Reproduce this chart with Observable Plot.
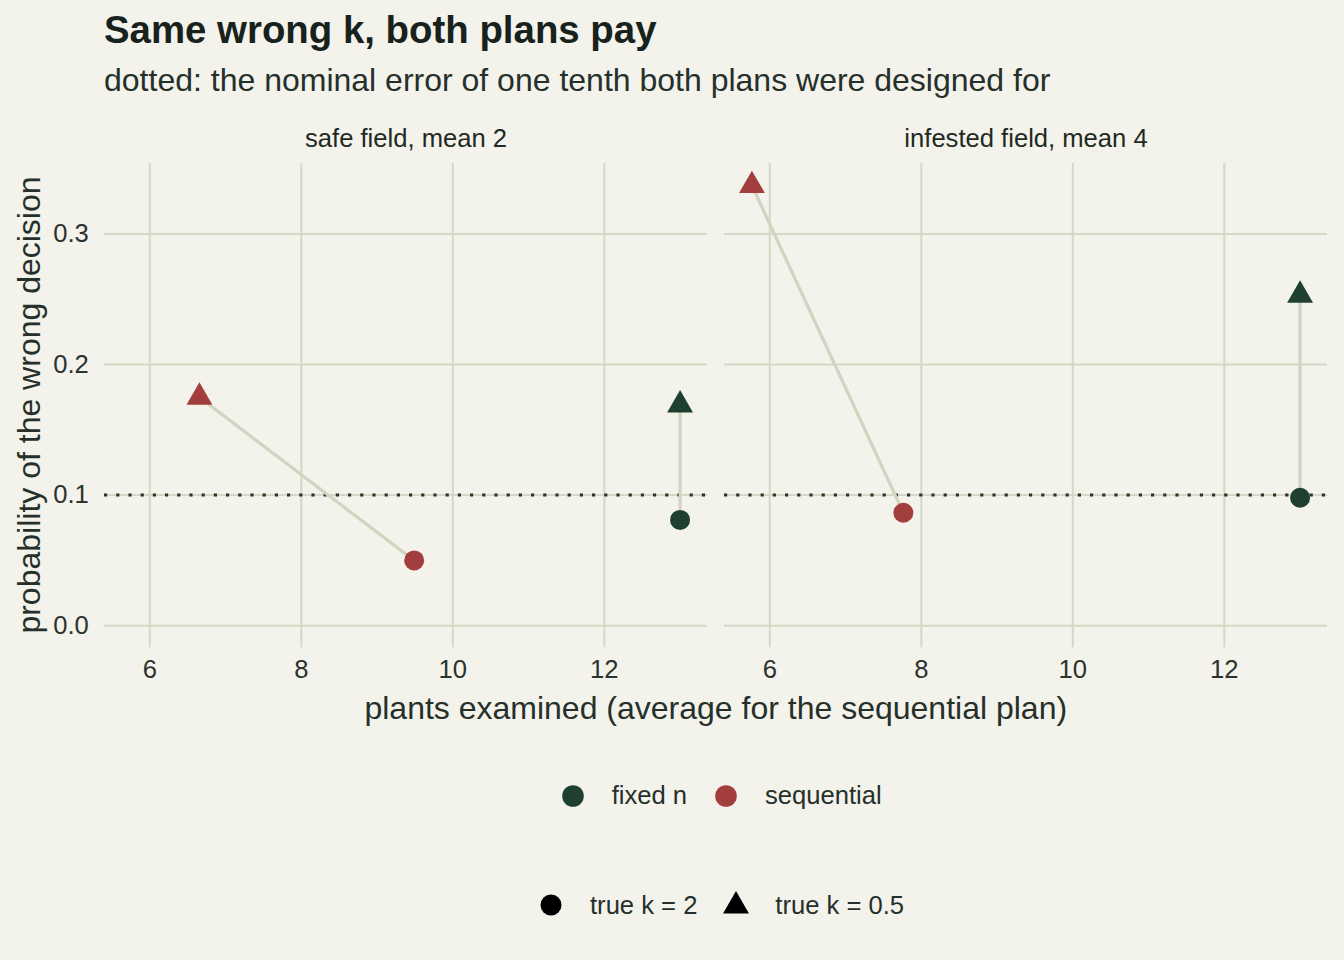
<!DOCTYPE html>
<html><head><meta charset="utf-8">
<script src="https://cdn.jsdelivr.net/npm/d3@7"></script>
<script src="https://cdn.jsdelivr.net/npm/@observablehq/plot@0.6"></script>
<style>
html,body{margin:0;padding:0;background:#f3f2eb;}
#wrap{position:relative;width:1344px;height:960px;background:#f3f2eb;font-family:"Liberation Sans",Arial,Helvetica,sans-serif;color:#25302a;overflow:hidden;}
.t{position:absolute;white-space:nowrap;line-height:1;}
#plot{position:absolute;left:0;top:100px;}
</style></head><body><div id="wrap"></div>
<script>
// ---- data ----
const fields = ["safe field, mean 2", "infested field, mean 4"];
const plans = ["fixed n", "sequential"];
const planColors = ["#1f4030", "#a33e3e"];
const trueK = ["2", "0.5"];
const kLabels = ["true k = 2", "true k = 0.5"];
const xTicks = [6, 8, 10, 12];
const yTicks = [0, 0.1, 0.2, 0.3];
const nominalError = 0.1;

const ptField  = [fields[0], fields[0], fields[0], fields[0], fields[1], fields[1], fields[1], fields[1]];
const ptPlan   = ["fixed n", "fixed n", "sequential", "sequential", "fixed n", "fixed n", "sequential", "sequential"];
const ptK      = ["2", "0.5", "2", "0.5", "2", "0.5", "2", "0.5"];
const ptPlants = [13, 13, 9.49, 6.655, 13, 13, 7.763, 5.764];
const ptError  = [0.081, 0.169, 0.050, 0.175, 0.098, 0.253, 0.0865, 0.337];

const titleText = "Same wrong k, both plans pay";
const subtitleText = "dotted: the nominal error of one tenth both plans were designed for";
const xTitle = "plants examined (average for the sequential plan)";
const yTitle = "probability of the wrong decision";

// ---- build tables ----
const points = ptField.map((f, i) => ({field: f, plan: ptPlan[i], k: ptK[i], x: ptPlants[i], y: ptError[i]}));
const links = [];
for (const f of fields) for (const p of plans) {
  const a = points.find(d => d.field === f && d.plan === p && d.k === trueK[0]);
  const b = points.find(d => d.field === f && d.plan === p && d.k === trueK[1]);
  links.push({field: f, x1: a.x, y1: a.y, x2: b.x, y2: b.y});
}

const FONT = '"Liberation Sans", Arial, Helvetica, sans-serif';
const GRID = "#d6d7c4";
const wrap = document.getElementById("wrap");

function addText(txt, left, top, size, opts = {}) {
  const el = document.createElement("div");
  el.className = "t";
  el.textContent = txt;
  el.style.left = left + "px";
  el.style.top = top + "px";
  el.style.fontSize = size + "px";
  if (opts.bold) el.style.fontWeight = "bold";
  if (opts.color) el.style.color = opts.color;
  if (opts.width) { el.style.width = opts.width + "px"; el.style.textAlign = "center"; }
  if (opts.rotate) el.style.transform = "rotate(-90deg)";
  wrap.appendChild(el);
  return el;
}

addText(titleText, 104, 10.5, 38.4, {bold: true, color: "#18221c"});
addText(subtitleText, 104, 64, 32, {color: "#25302a"});

const chart = Plot.plot({
  width: 1344,
  height: 640,
  marginLeft: 104,
  marginRight: 16.5,
  marginTop: 63,
  marginBottom: 92.7,
  style: {background: "transparent", fontFamily: FONT, fontSize: "25.6px", color: "#2e3731"},
  fx: {domain: fields, axis: null, paddingInner: 0.0274, paddingOuter: 0},
  x: {domain: [5.402, 13.362]},
  y: {domain: [-0.0169, 0.3539]},
  color: {domain: plans, range: planColors},
  marks: [
    Plot.gridX(xTicks, {stroke: GRID, strokeOpacity: 1, strokeWidth: 2}),
    Plot.gridY(yTicks, {stroke: GRID, strokeOpacity: 1, strokeWidth: 2}),
    Plot.axisX(xTicks, {tickSize: 0, tickPadding: 12, label: null, fontSize: 25.6, fill: "#2a332d"}),
    Plot.axisY(yTicks, {tickSize: 0, tickPadding: 15.7, label: null, fontSize: 25.6, fill: "#2a332d", tickFormat: d3.format(".1f")}),
    Plot.text(fields, {fx: d => d, text: d => d, frameAnchor: "top", lineAnchor: "middle", dy: -24.7, fontSize: 25.6, fill: "#1f2a23"}),
    Plot.ruleY([nominalError], {stroke: "#27352c", strokeWidth: 3, strokeDasharray: "3.2,9"}),
    Plot.link(links, {fx: "field", x1: "x1", y1: "y1", x2: "x2", y2: "y2", stroke: "#d3d4c0", strokeWidth: 3.2}),
    Plot.dot(points.filter(d => d.k === trueK[0]), {fx: "field", x: "x", y: "y", fill: "plan", r: 10, symbol: "circle"}),
    Plot.dot(points.filter(d => d.k === trueK[1]), {fx: "field", x: "x", y: "y", fill: "plan", r: 9.6, symbol: "triangle"})
  ]
});
chart.id = "plot";
wrap.appendChild(chart);

// axis titles
addText(xTitle, 715.75 - 500, 692, 32, {width: 1000, color: "#25302a"});
addText(yTitle, 29 - 350, 405 - 16, 32, {width: 700, rotate: true, color: "#25302a"});

// legends
function addSymbol(cx, cy, kind, color, size) {
  const s = document.createElementNS("http://www.w3.org/2000/svg", "svg");
  s.setAttribute("width", 40); s.setAttribute("height", 40);
  s.style.position = "absolute"; s.style.left = (cx - 20) + "px"; s.style.top = (cy - 20) + "px";
  const p = document.createElementNS("http://www.w3.org/2000/svg", "path");
  const sym = kind === "circle" ? d3.symbolCircle : d3.symbolTriangle;
  p.setAttribute("d", d3.symbol(sym, size)());
  p.setAttribute("transform", "translate(20,20)");
  p.setAttribute("fill", color);
  s.appendChild(p);
  wrap.appendChild(s);
}
const leg1X = [572.5, 726];
const leg1TextX = [611.7, 765];
plans.forEach((p, i) => {
  addSymbol(leg1X[i], 796, "circle", planColors[i], Math.PI * 10.8 * 10.8);
  addText(p, leg1TextX[i], 783.3, 25.6, {color: "#25302a"});
});
const leg2X = [550.7, 736];
const leg2TextX = [590, 775.3];
const kSym = ["circle", "triangle"];
kLabels.forEach((l, i) => {
  addSymbol(leg2X[i], kSym[i] === "circle" ? 905 : 906, kSym[i], "#000", kSym[i] === "circle" ? Math.PI * 10.5 * 10.5 : 290);
  addText(l, leg2TextX[i], 893.3, 25.6, {color: "#25302a"});
});
</script></body></html>
